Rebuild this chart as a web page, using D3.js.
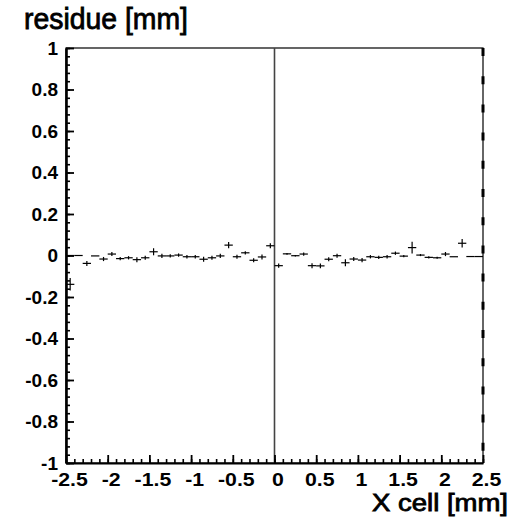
<!DOCTYPE html>
<html>
<head>
<meta charset="utf-8">
<script src="https://cdn.jsdelivr.net/npm/d3@7.9.0/dist/d3.min.js"></script>
<style>
  body { margin: 0; background: #fff; }
  svg text { font-family: "Liberation Sans", Arial, sans-serif; font-weight: bold; fill: #000; }
  svg text.title { font-weight: normal; stroke: #000; stroke-width: 0.8px; }
</style>
</head>
<body>
<svg id="plot" width="513" height="524"></svg>
<script>
// bin centers of the residue profile, 0.1 mm wide
const binCenters = d3.range(50).map(i => -2.45 + i * 0.1);
const residues = [
  -0.139, 0, -0.038, -0.002, -0.017, 0.007, -0.015, -0.011, -0.02, -0.011,
  0.018, -0.002, -0.002, 0.002, -0.006, -0.006, -0.018, -0.011, -0.002, 0.05,
  -0.006, 0.013, -0.023, -0.007, 0.047, -0.049, 0.008, -0.001, 0.007, -0.049,
  -0.05, -0.018, -0.001, -0.035, -0.017, -0.022, -0.006, -0.009, -0.006, 0.011,
  -0.003, 0.038, 0.002, -0.009, -0.011, 0.007, -0.006, 0.059, -0.005, -0.005
];
const errors = [
  0.03, 0, 0.012, 0, 0.01, 0.01, 0.008, 0.008, 0.012, 0.01,
  0.017, 0.01, 0.008, 0.008, 0.008, 0.008, 0.012, 0.01, 0.01, 0.015,
  0.01, 0.008, 0.01, 0.012, 0.012, 0.01, 0.004, 0.004, 0.008, 0.012,
  0.012, 0.01, 0.01, 0.017, 0.01, 0.01, 0.008, 0.008, 0.008, 0.008,
  0.006, 0.028, 0.005, 0.005, 0.005, 0.01, 0, 0.02, 0, 0
];
// empty bin drawn flat at zero on top of the first point
const zeroBins = [-2.45];
const binWidth = 0.1;

const xTicks = [-2.5, -2, -1.5, -1, -0.5, 0, 0.5, 1, 1.5, 2, 2.5];
const yTicks = [-1, -0.8, -0.6, -0.4, -0.2, 0, 0.2, 0.4, 0.6, 0.8, 1];

const svg = d3.select('#plot');
const padL = 66, padR = 483, padT = 48, padB = 463;

const x = d3.scaleLinear().domain([-2.5, 2.5]).range([padL, padR]);
const y = d3.scaleLinear().domain([-1, 1]).range([padB, padT]);

// frame
svg.append('rect')
  .attr('x', padL).attr('y', padT)
  .attr('width', padR - padL).attr('height', padB - padT)
  .attr('fill', 'none').attr('stroke', '#000').attr('stroke-width', 1.2);

// right edge dashes
svg.append('line')
  .attr('x1', padR).attr('x2', padR)
  .attr('y1', padT).attr('y2', padB)
  .attr('stroke', '#000').attr('stroke-width', 3)
  .attr('stroke-dasharray', '8 20.2');

// vertical line at x = 0
svg.append('line')
  .attr('x1', x(0)).attr('x2', x(0))
  .attr('y1', padT).attr('y2', padB)
  .attr('stroke', '#444').attr('stroke-width', 1.6);

// minor ticks
svg.append('g')
  .attr('transform', `translate(0,${padB})`)
  .call(d3.axisBottom(x).tickValues(d3.range(-25, 26).map(d => d / 10))
    .tickSize(-4).tickSizeOuter(0).tickFormat(''))
  .call(g => g.select('.domain').remove())
  .selectAll('line').attr('stroke-width', 1.6);

svg.append('g')
  .attr('transform', `translate(${padL},0)`)
  .call(d3.axisLeft(y).tickValues(d3.range(-25, 26).map(d => d * 0.04))
    .tickSize(-4).tickSizeOuter(0).tickFormat(''))
  .call(g => g.select('.domain').remove())
  .selectAll('line').attr('stroke-width', 1.6);

// major ticks and labels
const fmt = d => String(d);
const xAxis = svg.append('g')
  .attr('transform', `translate(0,${padB})`)
  .call(d3.axisBottom(x).tickValues(xTicks).tickSize(-8).tickSizeOuter(0)
    .tickPadding(10).tickFormat(fmt));
xAxis.select('.domain').attr('stroke-width', 2.2);
xAxis.selectAll('line').attr('stroke-width', 1.8);
xAxis.selectAll('text')
  .style('font-family', '"Liberation Sans", Arial, sans-serif')
  .attr('font-size', 19).attr('dx', 3)
  .each(function () {
    const w = this.getComputedTextLength();
    d3.select(this).attr('textLength', w * 1.12).attr('lengthAdjust', 'spacingAndGlyphs');
  });

const yAxis = svg.append('g')
  .attr('transform', `translate(${padL},0)`)
  .call(d3.axisLeft(y).tickValues(yTicks).tickSize(-8).tickSizeOuter(0)
    .tickPadding(8).tickFormat(fmt));
yAxis.select('.domain').attr('stroke-width', 2.6);
yAxis.selectAll('line').attr('stroke-width', 1.8);
yAxis.selectAll('text')
  .style('font-family', '"Liberation Sans", Arial, sans-serif')
  .attr('font-size', 19);

// points with error bars
const pts = svg.append('g').attr('stroke', '#000').attr('stroke-width', 1.2);
binCenters.forEach((c, i) => {
  const v = residues[i], e = errors[i];
  pts.append('line')
    .attr('x1', x(c - binWidth / 2)).attr('x2', x(c + binWidth / 2))
    .attr('y1', y(v)).attr('y2', y(v));
  if (e > 0) {
    pts.append('line')
      .attr('x1', x(c)).attr('x2', x(c))
      .attr('y1', y(v - e)).attr('y2', y(v + e));
  }
});
zeroBins.forEach(c => {
  pts.append('line')
    .attr('x1', x(c - binWidth / 2)).attr('x2', x(c + binWidth / 2))
    .attr('y1', y(0)).attr('y2', y(0));
});

// axis titles
svg.append('text').attr('class', 'title').attr('x', 24).attr('y', 29)
  .attr('font-size', 29).attr('textLength', 164).attr('lengthAdjust', 'spacingAndGlyphs')
  .text('residue [mm]');
svg.append('text').attr('class', 'title').attr('x', 372).attr('y', 511)
  .attr('font-size', 23).attr('textLength', 136).attr('lengthAdjust', 'spacingAndGlyphs')
  .text('X cell [mm]');
</script>
</body>
</html>
